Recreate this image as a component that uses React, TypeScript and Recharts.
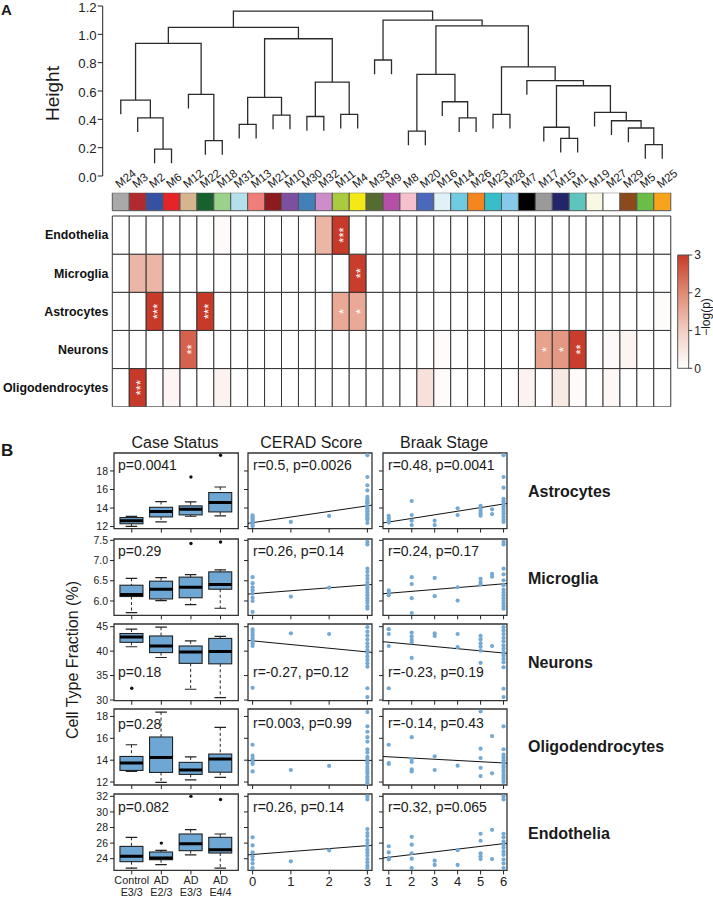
import React from 'react';
import {
  LineChart, Line, XAxis, YAxis, BarChart, Bar, Cell, LabelList,
  ComposedChart, Scatter, ReferenceArea,
} from 'recharts';

const FONT = '"Liberation Sans", Arial, Helvetica, sans-serif';
const INK = '#222222';
const FRAME = '#333333';
const BOX_FILL = '#6ea7d4';
const DOT_FILL = '#74a9d4';

// ================= Panel A data =================
const leafNames = ['M24','M3','M2','M6','M12','M22','M18','M31','M13','M21','M10','M30','M32','M11','M4','M33','M9','M8','M20','M16','M14','M26','M23','M28','M7','M17','M15','M1','M19','M27','M29','M5','M25'];
const leafColors = ['#a9a9a9','#b02a2f','#3651a3','#e52329','#d4b58e','#17612f','#9ad28c','#b3e0ea','#f07e78','#8b1b1e','#7c4fa0','#4380b9','#cc8dca','#aacb40','#f4e915','#566b30','#b54fa7','#f7c0ce','#4b69bc','#e0f2f8','#6fcbe0','#f4861f','#37bec8','#86c9e8','#000000','#9a9a9a','#23256b','#5dc5be','#f9f8e2','#ffffff','#8c4a1c','#6abd46','#f8a31c'];
// hierarchical merges: child = leaf name or index of an earlier merge
const mergeLeft: (string | number)[] = ['M2','M3','M24','M22','M12',2,'M31','M21',6,'M30','M11',9,8,5,'M33','M8','M14','M16',15,'M23','M15','M17','M5','M29','M27','M19',21,'M7',19,18,14,13];
const mergeRight: (string | number)[] = ['M6',0,1,'M18',3,4,'M13','M10',7,'M32','M4',10,11,12,'M9','M20','M26',16,17,'M28','M1',20,'M25',22,23,24,25,26,27,28,29,30];
const mergeHeight = [0.19,0.41,0.536,0.25,0.576,0.936,0.365,0.43,0.555,0.42,0.435,0.663,0.969,1.049,0.819,0.317,0.41,0.524,0.718,0.435,0.266,0.344,0.221,0.339,0.39,0.449,0.637,0.673,0.771,1.06,1.10,1.164];
const HANG = 0.1;
const heightTicks = [0, 0.2, 0.4, 0.6, 0.8, 1.0, 1.2];

const heatEndothelia = [0,0,0,0,0,0,0.08,0,0,0, 0,0,1.35,3,0,0,0,0,0,0, 0,0,0,0,0,0,0,0,0,0, 0,0,0];
const heatMicroglia = [0,1.35,1.35,0,0,0,0,0.04,0,0, 0,0,0,0,2.95,0,0,0,0,0, 0,0,0,0,0,0,0,0,0,0, 0,0,0];
const heatAstrocytes = [0,0,3,0,0,3,0,0,0,0, 0,0,0,1.55,1.55,0,0,0,0,0, 0,0,0,0,0,0,0,0,0,0, 0,0,0.07];
const heatNeurons = [0,0,0,0,2.5,0,0,0,0,0, 0,0,0,0,0,0,0,0,0,0.08, 0,0,0,0,0,1.65,1.8,2.95,0,0.12, 0.22,0,0];
const heatOligodendrocytes = [0,3,0,0.2,0,0,0.25,0,0,0, 0,0,0,0,0,0,0,0,0.6,0.08, 0,0,0,0,0.25,0,0.45,0.08,0,0.15, 0,0,0];
const starEndothelia: Record<number, string> = { 13: '***' };
const starMicroglia: Record<number, string> = { 14: '**' };
const starAstrocytes: Record<number, string> = { 2: '***', 5: '***', 13: '*', 14: '*' };
const starNeurons: Record<number, string> = { 4: '**', 25: '*', 26: '*', 27: '**' };
const starOligodendrocytes: Record<number, string> = { 1: '***' };
const legendTicks = [0, 1, 2, 3];

// bottom -> top stacking order
const heatRows = [
  { key: 'oligo', name: 'Oligodendrocytes', vals: heatOligodendrocytes, stars: starOligodendrocytes },
  { key: 'neuro', name: 'Neurons', vals: heatNeurons, stars: starNeurons },
  { key: 'astro', name: 'Astrocytes', vals: heatAstrocytes, stars: starAstrocytes },
  { key: 'micro', name: 'Microglia', vals: heatMicroglia, stars: starMicroglia },
  { key: 'endo', name: 'Endothelia', vals: heatEndothelia, stars: starEndothelia },
];

// ================= Panel B data =================
const groupLine1 = ['Control', 'AD', 'AD', 'AD'];
const groupLine2 = ['E3/3', 'E2/3', 'E3/3', 'E4/4'];
const cellTypeRows = ['Astrocytes', 'Microglia', 'Neurons', 'Oligodendrocytes', 'Endothelia'];
// [min, q1, median, q3, max] per group
const astroBox = [[12.03,12.3,12.64,12.97,13.1],[12.5,13.04,13.62,14.08,14.7],[13.11,13.26,13.87,14.23,14.67],[13.15,13.58,14.59,15.67,16.27]];
const microBox = [[5.71,6.11,6.16,6.39,6.56],[6.01,6.05,6.29,6.49,6.58],[5.91,6.08,6.34,6.59,6.65],[5.82,6.29,6.41,6.72,6.77]];
const neuroBox = [[40.9,41.8,42.9,43.6,44.5],[38.7,39.7,41.05,43.1,44.9],[32.2,37.5,39.8,41.05,42.1],[30.5,37.4,39.9,42.6,43.0]];
const oligoBox = [[12.97,13.06,13.74,14.34,15.41],[11.97,12.88,14.25,16.12,18.4],[12.2,12.7,13.1,13.8,14.3],[12.42,12.9,14.1,14.56,17.0]];
const endoBox = [[22.8,23.62,24.3,25.58,26.74],[23.23,23.87,24.09,24.86,25.07],[24.5,25.03,25.93,27.17,27.73],[22.8,24.73,25.16,26.74,27.17]];
const astroOut = [null, null, 17.35, 19.7];
const microOut = [null, null, 7.42, 7.46];
const neuroOut = [32.4, null, null, null];
const oligoOut = [null, null, null, null];
const endoOut = [null, 26.0, 32.0, 31.6];
const boxStats = [astroBox, microBox, neuroBox, oligoBox, endoBox];
const boxOutliers = [astroOut, microOut, neuroOut, oligoOut, endoOut];

const yDomains = [[11.78, 19.94], [5.646, 7.533], [29.86, 45.55], [11.73, 18.68], [22.5, 32.3]];
const yTicks = [[12, 14, 16, 18], [6, 6.5, 7, 7.5], [30, 35, 40, 45], [12, 14, 16, 18], [24, 26, 28, 30, 32]];
const groupTicks = [1, 2, 3, 4];
const ceradTicks = [0, 1, 2, 3];
const braakTicks = [1, 2, 3, 4, 5, 6];

type Lvl = [number, number[]];
const astroCerad: Lvl[] = [[0,[13.2,13.0,12.85,12.7,12.55,12.4,12.25,12.05]],[1,[12.5]],[2,[13.15]],[3,[19.7,17.35,16.46,15.9,15.2,14.95,14.73,14.48,14.22,13.94,13.65,13.4,13.11,12.76,12.39,13.8,14.1,12.9,13.3,14.6]]];
const astroBraak: Lvl[] = [[1,[13.15,12.9,12.65,12.43]],[2,[14.76,13.24,12.63,12.16]],[3,[12.63,12.16]],[4,[13.97,13.24]],[5,[14.23,13.97,13.68,13.42,13.17]],[5.5,[13.86,13.35]],[6,[19.7,17.35,16.2,15.0,14.74,14.45,14.2,13.9,13.6,13.35,13.06,12.77,12.5]]];
const microCerad: Lvl[] = [[0,[6.59,6.44,6.34,6.26,6.18,6.08,6.0,5.73]],[1,[6.11]],[2,[6.33]],[3,[7.46,7.4,6.8,6.72,6.63,6.55,6.47,6.41,6.34,6.28,6.21,6.14,6.07,6.01,5.95,5.87,5.81]]];
const microBraak: Lvl[] = [[1,[6.26,6.21,6.14]],[2,[6.59,6.42,6.07,5.7]],[3,[6.57,6.12]],[4,[6.34,6.01]],[5,[6.55,6.47,6.41]],[5.5,[6.67,6.6]],[6,[7.46,7.4,6.8,6.66,6.51,6.39,6.28,6.21,6.14,6.07,6.0,5.93,5.87,5.81]]];
const neuroCerad: Lvl[] = [[0,[44.47,43.98,43.5,43.1,42.6,42.1,41.6,41.05,32.5]],[1,[43.65]],[2,[43.5]],[3,[44.9,43.98,43.2,42.4,41.6,40.9,40.2,39.6,38.9,38.2,37.5,36.8,32.4,30.6]]];
const neuroBraak: Lvl[] = [[1,[44.5,43.5,41.05,32.4]],[2,[43.8,43.0,42.3,41.8,38.6]],[3,[43.65,43.1]],[4,[43.5,40.8]],[5,[43.1,42.4,41.6,40.9,40.1,37.6]],[5.5,[41.05]],[6,[44.9,44.2,43.5,42.7,42.0,41.2,40.5,39.8,39.1,38.4,37.7,36.7,32.3,30.6]]];
const oligoCerad: Lvl[] = [[0,[15.41,14.41,14.13,13.89,13.65,12.97]],[1,[13.1]],[2,[13.47]],[3,[18.4,17.1,16.6,16.1,15.7,15.0,14.7,14.3,14.1,13.9,13.7,13.4,13.2,13.0,12.8,12.5,12.3,12.1,11.9]]];
const oligoBraak: Lvl[] = [[1,[15.41,13.74,13.65]],[2,[16.1,14.1,13.84,13.15,12.97]],[3,[14.35,13.1]],[4,[13.5]],[5,[18.45,15.05,14.2,13.3,12.55]],[5.5,[16.2,12.8]],[6,[17.1,15.0,14.5,14.25,14.0,13.75,13.5,13.3,13.05,12.85,12.6,12.4,12.2,12.0]]];
const endoCerad: Lvl[] = [[0,[26.74,25.7,24.8,24.3,23.9,23.4,22.8]],[1,[23.66]],[2,[25.07]],[3,[32.0,31.6,27.8,27.3,26.9,26.4,26.0,25.6,25.16,24.8,24.4,23.95,23.55,23.1,22.8]]];
const endoBraak: Lvl[] = [[1,[25.6,24.8,24.1,23.9]],[2,[26.8,25.8,24.7,24.0,22.8]],[3,[23.75,23.2]],[4,[25.1,23.2]],[5,[27.2,26.3,24.7,24.3,23.95]],[5.5,[27.7,23.95]],[6,[32.0,31.6,27.2,26.74,26.2,25.8,25.4,24.9,24.5,23.9,23.4,22.8]]];
const ceradPoints = [astroCerad, microCerad, neuroCerad, oligoCerad, endoCerad];
const braakPoints = [astroBraak, microBraak, neuroBraak, oligoBraak, endoBraak];
// [intercept, slope]
const ceradFit = [[12.42, 0.606], [6.18, 0.073], [42.1, -0.755], [13.98, 0], [24.54, 0.378]];
const braakFit = [[12.10, 0.389], [6.145, 0.0466], [42.26, -0.441], [14.42, -0.112], [23.83, 0.35]];
const boxP = ['p=0.0041', 'p=0.29', 'p=0.18', 'p=0.28', 'p=0.082'];
const ceradText = ['r=0.5, p=0.0026', 'r=0.26, p=0.14', 'r=-0.27, p=0.12', 'r=0.003, p=0.99', 'r=0.26, p=0.14'];
const braakText = ['r=0.48, p=0.0041', 'r=0.24, p=0.17', 'r=-0.23, p=0.19', 'r=-0.14, p=0.43', 'r=0.32, p=0.065'];

// ================= layout =================
const HM_LEFT = 112.3, HM_RIGHT = 670.7;
const COLW = (HM_RIGHT - HM_LEFT) / leafNames.length;
const DEN_AXIS_X = 102.7;
const BOX_X = [114, 238.3], CERAD_X = [248.3, 372.3], BRAAK_X = [383.3, 507.3];
const ROW_Y = [[452.7, 528.3], [538.7, 615], [624, 700.7], [709.3, 785.3], [794.3, 870.7]];
const boxDomain = [0.4, 4.6];
const ceradDomain = [-0.12, 3.12];
const braakDomain = [0.75, 6.15];
const PADL = 40, PADR = 4, PADT = 4;
const GAP_U = 0.139, SWATCH_U = 0.472;

// ================= helpers =================
const heatStops: [number, number[]][] = [[0, [255, 255, 255]], [1, [242, 205, 193]], [2, [225, 139, 115]], [3, [199, 57, 40]]];
function heatColor(v: number) {
  const t = Math.max(0, Math.min(3, v));
  let k = 0;
  while (k < heatStops.length - 2 && t > heatStops[k + 1][0]) k++;
  const [a0, c0] = heatStops[k];
  const [a1, c1] = heatStops[k + 1];
  const f = (t - a0) / (a1 - a0);
  const c = c0.map((v0, j) => Math.round(v0 + (c1[j] - v0) * f));
  return `rgb(${c[0]},${c[1]},${c[2]})`;
}

function buildDendro() {
  const nx: number[] = [];
  const nh: number[] = [];
  const pos = (c: string | number) => (typeof c === 'string' ? leafNames.indexOf(c) : nx[c]);
  const bottom = (c: string | number, h: number) => (typeof c === 'string' ? h - HANG : nh[c]);
  return mergeHeight.map((h, k) => {
    const l = mergeLeft[k], r = mergeRight[k];
    const xl = pos(l), xr = pos(r);
    const seg = [
      { x: xl, y: bottom(l, h) }, { x: xl, y: h }, { x: xr, y: h }, { x: xr, y: bottom(r, h) },
    ];
    nx[k] = (xl + xr) / 2;
    nh[k] = h;
    return seg;
  });
}

const EmptyTick = () => <g />;

const LeafTick = (props: any) => {
  const { x, payload } = props;
  const sx = x - 1.5, sy = 188.5;
  return (
    <text x={sx} y={sy} transform={`rotate(-38 ${sx} ${sy})`} fontSize={11.5} fill={INK} textAnchor="start">
      {leafNames[payload.value]}
    </text>
  );
};

const HeightTick = (props: any) => {
  const { x, y, payload } = props;
  return (
    <text x={x} y={y + 5.6} textAnchor="end" fontSize={13.2} fill={INK}>{payload.value.toFixed(1)}</text>
  );
};

const RowTick = (props: any) => {
  const { x, y, payload } = props;
  const idx = Math.floor(payload.value);
  return (
    <text x={x} y={y} dy="0.35em" textAnchor="end" fontSize={12.4} fontWeight="bold" fill="#111">
      {heatRows[idx] ? heatRows[idx].name : ''}
    </text>
  );
};

const StarLabel = (props: any) => {
  const { x, y, width, height, value } = props;
  if (!value) return null;
  const cx = x + width / 2, cy = y + height / 2;
  return (
    <text x={cx} y={cy} dy="0.58em" textAnchor="middle" fontSize={13} fill="#ffffff"
      transform={`rotate(-90 ${cx} ${cy})`}>
      {value}
    </text>
  );
};

const BoxShape = (props: any) => {
  const { x, y, width, height, payload } = props;
  const s: number[] = payload.stats;
  const lo = s[0], hi = s[4];
  const top = Math.min(y, y + height);
  const h = Math.abs(height);
  const py = (v: number) => top + ((hi - v) / (hi - lo)) * h;
  const cx = x + width / 2;
  const cap = width * 0.25;
  return (
    <g>
      <line x1={cx} x2={cx} y1={py(hi)} y2={py(s[3])} stroke={INK} strokeWidth={1} strokeDasharray="3 2.5" />
      <line x1={cx} x2={cx} y1={py(s[1])} y2={py(lo)} stroke={INK} strokeWidth={1} strokeDasharray="3 2.5" />
      <line x1={cx - cap} x2={cx + cap} y1={py(hi)} y2={py(hi)} stroke={INK} strokeWidth={1.2} />
      <line x1={cx - cap} x2={cx + cap} y1={py(lo)} y2={py(lo)} stroke={INK} strokeWidth={1.2} />
      <rect x={x} y={py(s[3])} width={width} height={py(s[1]) - py(s[3])} fill={BOX_FILL} stroke={INK} strokeWidth={1.1} />
      <line x1={x} x2={x + width} y1={py(s[2])} y2={py(s[2])} stroke="#000" strokeWidth={3} />
    </g>
  );
};

const OutDot = (props: any) => {
  if (!props.payload || props.payload.out == null || !isFinite(props.cy)) return <g />;
  return <circle cx={props.cx} cy={props.cy} r={1.7} fill="#111" />;
};

const BlueDot = (props: any) => <circle cx={props.cx} cy={props.cy} r={2.1} fill={DOT_FILL} />;

const GroupTick = (props: any) => {
  const { x, y, payload } = props;
  const i = groupTicks.indexOf(payload.value);
  return (
    <g>
      <text x={x} y={y + 7.5} textAnchor="middle" fontSize={10.8} fill={INK}>{groupLine1[i]}</text>
      <text x={x} y={y + 19.8} textAnchor="middle" fontSize={10.8} fill={INK}>{groupLine2[i]}</text>
    </g>
  );
};

const NumTick = (props: any) => {
  const { x, y, payload } = props;
  return <text x={x} y={y + 9.8} textAnchor="middle" fontSize={13} fill={INK}>{payload.value}</text>;
};

// ================= components =================
function Dendrogram() {
  const segs = buildDendro();
  const W = 713, H = 200;
  return (
    <div style={{ position: 'absolute', left: 0, top: 0 }}>
      <LineChart width={W} height={H} margin={{ top: 6, right: W - HM_RIGHT, bottom: 0, left: 0 }}>
        <XAxis type="number" dataKey="x" domain={[-0.5 - (HM_LEFT - DEN_AXIS_X) / COLW, leafNames.length - 0.5]}
          allowDataOverflow ticks={leafNames.map((_, i) => i)} interval={0} height={24}
          axisLine={false} tickLine={false} tick={LeafTick} />
        <YAxis type="number" domain={[0, 1.2]} allowDataOverflow ticks={heightTicks} interval={0} width={DEN_AXIS_X}
          tickSize={5} tickMargin={1}
          axisLine={{ stroke: INK, strokeWidth: 1 }} tickLine={{ stroke: INK }} tick={HeightTick} />
        {segs.map((s, k) => (
          <Line key={k} data={s} dataKey="y" type="linear" dot={false} stroke="#2b2b2b" strokeWidth={1.3} isAnimationActive={false} />
        ))}
      </LineChart>
    </div>
  );
}

function Heatmap() {
  const top = 180, H = 240;
  const heatData = leafNames.map((m, i) => {
    const d: any = { m, gap: GAP_U, swatch: SWATCH_U };
    heatRows.forEach((r) => {
      d[r.key] = 1;
      d[r.key + 'Star'] = r.stars[i] || '';
    });
    return d;
  });
  return (
    <div style={{ position: 'absolute', left: 0, top }}>
      <BarChart width={713} height={H} data={heatData} barCategoryGap={0} barGap={0}
        margin={{ top: 192.7 - top, right: 713 - HM_RIGHT, left: 0, bottom: H - (406.7 - top) }}>
        <XAxis dataKey="m" hide />
        <YAxis type="number" domain={[0, 5 + GAP_U + SWATCH_U]} allowDataOverflow ticks={[0.5, 1.5, 2.5, 3.5, 4.5]}
          interval={0} width={HM_LEFT} axisLine={false} tickLine={false} tickSize={0} tickMargin={4} tick={RowTick} />
        {heatRows.map((r) => (
          <Bar key={r.key} dataKey={r.key} stackId="h" isAnimationActive={false}>
            {leafNames.map((m, i) => (
              <Cell key={m} fill={heatColor(r.vals[i])} stroke="#333" strokeWidth={1} />
            ))}
            <LabelList dataKey={r.key + 'Star'} content={StarLabel} />
          </Bar>
        ))}
        <Bar dataKey="gap" stackId="h" fill="none" stroke="none" isAnimationActive={false} />
        <Bar dataKey="swatch" stackId="h" isAnimationActive={false}>
          {leafColors.map((c, i) => (
            <Cell key={i} fill={c} stroke="#555" strokeWidth={1} />
          ))}
        </Bar>
      </BarChart>
    </div>
  );
}

function HeatLegend() {
  const left = 660, top = 245, W = 53, H = 135;
  const pl = 677.7, pr = 688.3, pt = 255, pb = 368.3;
  return (
    <div style={{ position: 'absolute', left, top }}>
      <BarChart width={W} height={H} data={[{ n: 'scale', v: 3 }]} barCategoryGap={0}
        margin={{ top: pt - top, left: pl - left, right: W - (pr - left) - 20, bottom: H - (pb - top) }}>
        <defs>
          <linearGradient id="heatGrad" x1="0" y1="0" x2="0" y2="1">
            {heatStops.slice().reverse().map(([v, c]) => (
              <stop key={v} offset={`${((3 - v) / 3) * 100}%`} stopColor={`rgb(${c[0]},${c[1]},${c[2]})`} />
            ))}
          </linearGradient>
        </defs>
        <XAxis dataKey="n" hide />
        <YAxis orientation="right" type="number" domain={[0, 3]} ticks={legendTicks} interval={0} width={20}
          axisLine={false} tickSize={4} tickMargin={2} tickLine={{ stroke: '#444' }} tick={{ fontSize: 12, fill: INK }} />
        <Bar dataKey="v" fill="url(#heatGrad)" stroke="#555" strokeWidth={1} isAnimationActive={false} />
      </BarChart>
    </div>
  );
}

function BoxPanel({ row }: { row: number }) {
  const [pl, pr] = BOX_X;
  const [pt, pb] = ROW_Y[row];
  const last = row === ROW_Y.length - 1;
  const padB = last ? 28 : 8;
  const dom = yDomains[row];
  const data = boxStats[row].map((s, i) => ({ x: groupTicks[i], stats: s, out: boxOutliers[row][i] }));
  return (
    <div style={{ position: 'absolute', left: pl - PADL, top: pt - PADT }}>
      <ComposedChart width={pr - pl + PADL + PADR} height={pb - pt + PADT + padB} data={data}
        margin={{ top: PADT, right: PADR, left: 0, bottom: 0 }}>
        <XAxis type="number" dataKey="x" domain={boxDomain} allowDataOverflow ticks={groupTicks} interval={0}
          height={padB} axisLine={false} tickSize={4} tickMargin={2} tickLine={{ stroke: INK }}
          tick={last ? GroupTick : EmptyTick} />
        <YAxis type="number" domain={dom} allowDataOverflow ticks={yTicks[row]} interval={0} width={PADL}
          axisLine={false} tickSize={4} tickMargin={2} tickLine={{ stroke: INK }}
          tickFormatter={(v: number) => (row === 1 ? v.toFixed(1) : String(v))}
          tick={{ fontSize: 10.5, fill: INK }} />
        <ReferenceArea x1={boxDomain[0]} x2={boxDomain[1]} y1={dom[0]} y2={dom[1]} fill="none" fillOpacity={0}
          stroke={FRAME} strokeWidth={1.3} ifOverflow="visible" />
        <Bar dataKey={(d: any) => [d.stats[0], d.stats[4]]} barSize={23} shape={BoxShape} isAnimationActive={false} />
        <Scatter dataKey="out" shape={OutDot} isAnimationActive={false} />
      </ComposedChart>
    </div>
  );
}

function CorrPanel({ row, kind }: { row: number; kind: 'cerad' | 'braak' }) {
  const [pl, pr] = kind === 'cerad' ? CERAD_X : BRAAK_X;
  const [pt, pb] = ROW_Y[row];
  const last = row === ROW_Y.length - 1;
  const padB = last ? 28 : 8;
  const xDom = kind === 'cerad' ? ceradDomain : braakDomain;
  const xTicks = kind === 'cerad' ? ceradTicks : braakTicks;
  const lvls = (kind === 'cerad' ? ceradPoints : braakPoints)[row];
  const fit = (kind === 'cerad' ? ceradFit : braakFit)[row];
  const pts: { x: number; y: number }[] = [];
  lvls.forEach(([x, ys]) => ys.forEach((y) => pts.push({ x, y })));
  const lineData = xDom.map((x) => ({ x, y: fit[0] + fit[1] * x }));
  const dom = yDomains[row];
  return (
    <div style={{ position: 'absolute', left: pl - PADL, top: pt - PADT }}>
      <ComposedChart width={pr - pl + PADL + PADR} height={pb - pt + PADT + padB}
        margin={{ top: PADT, right: PADR, left: 0, bottom: 0 }}>
        <XAxis type="number" dataKey="x" domain={xDom} allowDataOverflow ticks={xTicks} interval={0}
          height={padB} axisLine={false} tickSize={4} tickMargin={2} tickLine={{ stroke: INK }}
          tick={last ? NumTick : EmptyTick} />
        <YAxis type="number" domain={dom} allowDataOverflow ticks={yTicks[row]} interval={0} width={PADL}
          axisLine={false} tickSize={4} tickLine={{ stroke: INK }} tick={EmptyTick} />
        <ReferenceArea x1={xDom[0]} x2={xDom[1]} y1={dom[0]} y2={dom[1]} fill="none" fillOpacity={0}
          stroke={FRAME} strokeWidth={1.3} ifOverflow="visible" />
        <Scatter data={pts} dataKey="y" shape={BlueDot} isAnimationActive={false} />
        <Line data={lineData} dataKey="y" type="linear" dot={false} stroke="#111" strokeWidth={1} isAnimationActive={false} />
      </ComposedChart>
    </div>
  );
}

const rowLabelY = [497.4, 583.7, 667.7, 752.4, 838.7];
const boxPY = [469.5, 556, 676.5, 729, 811.5];

export default function App() {
  return (
    <div style={{ position: 'absolute', left: 0, top: 0, width: 713, height: 899, background: '#fff', fontFamily: FONT, overflow: 'hidden' }}>
      <Dendrogram />
      <Heatmap />
      <HeatLegend />
      {ROW_Y.map((_, i) => (
        <React.Fragment key={i}>
          <BoxPanel row={i} />
          <CorrPanel row={i} kind="cerad" />
          <CorrPanel row={i} kind="braak" />
        </React.Fragment>
      ))}
      <svg width={713} height={899} style={{ position: 'absolute', left: 0, top: 0, pointerEvents: 'none' }}>
        <g fill="#1a1a1a" fontFamily={FONT}>
          <text x={1} y={15} fontSize={15} fontWeight="bold">A</text>
          <text transform="translate(59 93.5) rotate(-90)" textAnchor="middle" fontSize={19}>Height</text>
          <text transform="translate(710 317) rotate(-90)" textAnchor="middle" fontSize={12}>−log(p)</text>
          <text x={1} y={456} fontSize={17} fontWeight="bold">B</text>
          <text x={175} y={448} textAnchor="middle" fontSize={16}>Case Status</text>
          <text x={311.3} y={448} textAnchor="middle" fontSize={16}>CERAD Score</text>
          <text x={444} y={448} textAnchor="middle" fontSize={16}>Braak Stage</text>
          {cellTypeRows.map((n, i) => (
            <text key={n} x={528} y={rowLabelY[i]} fontSize={16} fontWeight="bold">{n}</text>
          ))}
          <text transform="translate(78 660) rotate(-90)" textAnchor="middle" fontSize={16}>Cell Type Fraction (%)</text>
          {boxP.map((t, i) => (
            <text key={'bp' + i} x={118} y={boxPY[i]} fontSize={14}>{t}</text>
          ))}
          {ceradText.map((t, i) => (
            <text key={'cp' + i} x={253} y={boxPY[i] - (i === 3 ? 1 : 0)} fontSize={14}>{t}</text>
          ))}
          {braakText.map((t, i) => (
            <text key={'bk' + i} x={388} y={boxPY[i] - (i === 3 ? 1 : 0)} fontSize={14}>{t}</text>
          ))}
        </g>
      </svg>
    </div>
  );
}
